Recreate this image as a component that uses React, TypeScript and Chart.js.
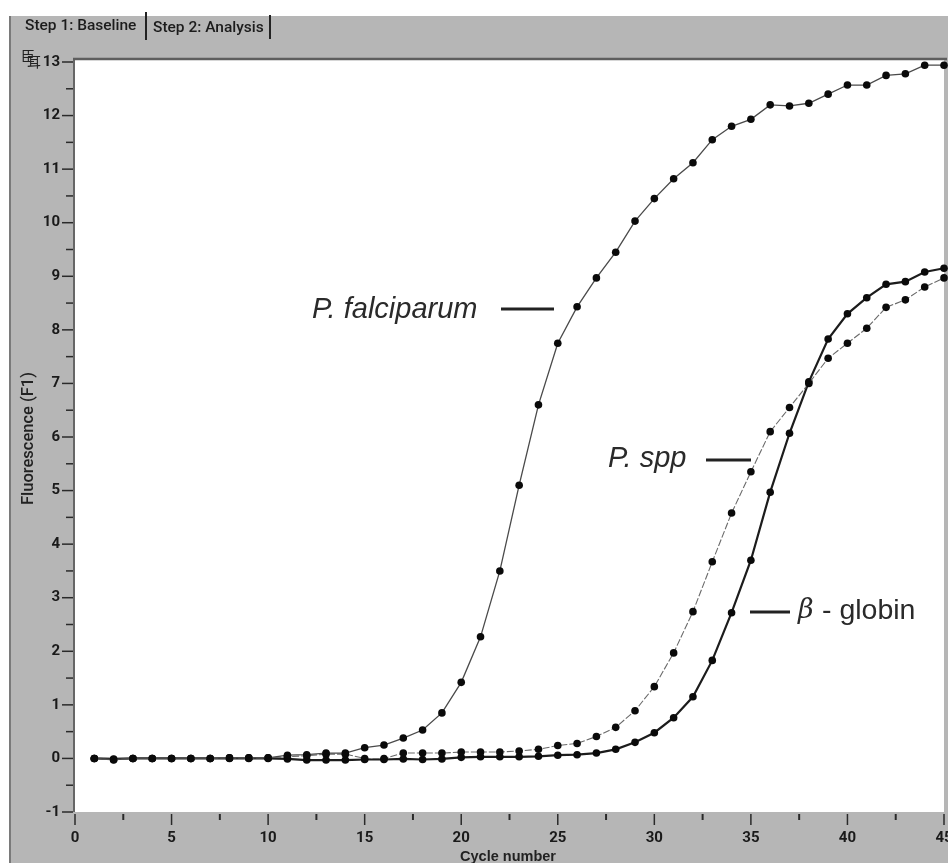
import React, { useEffect, useRef } from "react";
import { Chart, registerables } from "chart.js";

Chart.register(...registerables);

const cycles = Array.from({ length: 45 }, (_, i) => i + 1);
const falciparum = [0, -0.02, 0, 0, 0, 0, 0, 0.01, 0.01, 0.01, 0.06, 0.07, 0.1, 0.1, 0.2, 0.25, 0.38, 0.53, 0.85, 1.42, 2.27, 3.5, 5.1, 6.6, 7.75, 8.43, 8.97, 9.45, 10.03, 10.45, 10.82, 11.12, 11.55, 11.8, 11.93, 12.2, 12.18, 12.23, 12.4, 12.57, 12.57, 12.75, 12.78, 12.94, 12.94];
const pSpp = [0, -0.03, 0, 0, 0, 0, 0, 0.01, 0.01, 0.01, 0.03, 0.05, 0.08, 0.08, 0.0, 0.0, 0.1, 0.1, 0.1, 0.12, 0.12, 0.12, 0.14, 0.17, 0.24, 0.28, 0.41, 0.58, 0.89, 1.34, 1.97, 2.74, 3.67, 4.58, 5.35, 6.1, 6.55, 7.0, 7.47, 7.75, 8.03, 8.42, 8.56, 8.8, 8.97];
const betaGlobin = [0, -0.01, 0, 0, 0, 0, 0, 0, 0, 0, -0.01, -0.03, -0.03, -0.03, -0.02, -0.02, -0.01, -0.02, -0.01, 0.02, 0.03, 0.03, 0.03, 0.04, 0.06, 0.07, 0.1, 0.17, 0.3, 0.48, 0.76, 1.15, 1.83, 2.72, 3.7, 4.97, 6.07, 7.03, 7.83, 8.3, 8.6, 8.85, 8.9, 9.08, 9.15];
const yTicksMinor = [-0.5, 0.5, 1.5, 2.5, 3.5, 4.5, 5.5, 6.5, 7.5, 8.5, 9.5, 10.5, 11.5, 12.5];
const xTickLabels = [0, 5, 10, 15, 20, 25, 30, 35, 40, 45];
const xTitle = "Cycle number";
const yTitle = "Fluorescence (F1)";
const tabLabels = ["Step 1: Baseline", "Step 2: Analysis"];
const seriesLabels = ["P. falciparum", "P. spp", "β", "- globin"];

const tickFont = "Roboto, sans-serif";

const frame = {
  id: "frame",
  beforeDraw(chart: any) {
    const { ctx, chartArea: a, width, height } = chart;
    ctx.save();
    ctx.fillStyle = "#ffffff";
    ctx.fillRect(0, 0, width, height);
    ctx.fillStyle = "#b6b6b6";
    ctx.fillRect(9, 16, width - 9, height - 16);
    ctx.fillStyle = "#7a7a7a";
    ctx.fillRect(9, 16, 2, height - 16);
    ctx.fillStyle = "#ffffff";
    ctx.fillRect(a.left, a.top - 2, a.right - a.left, a.bottom - a.top + 2);
    ctx.restore();
  },
  afterDraw(chart: any) {
    const { ctx, chartArea: a, scales } = chart;
    ctx.save();
    ctx.strokeStyle = "#666";
    ctx.lineWidth = 2;
    ctx.beginPath();
    ctx.moveTo(a.left - 1, a.bottom);
    ctx.lineTo(a.left - 1, a.top - 2);
    ctx.stroke();
    ctx.strokeStyle = "#5e5e5e";
    ctx.lineWidth = 2.5;
    ctx.beginPath();
    ctx.moveTo(a.left - 2, a.top - 3);
    ctx.lineTo(a.right + 3, a.top - 3);
    ctx.stroke();

    ctx.strokeStyle = "#2a2a2a";
    ctx.lineWidth = 1.5;
    for (let v = -1; v <= 13; v++) {
      const y = scales.y.getPixelForValue(v);
      ctx.beginPath();
      ctx.moveTo(a.left - 13, y);
      ctx.lineTo(a.left - 2, y);
      ctx.stroke();
    }
    yTicksMinor.forEach((v) => {
      const y = scales.y.getPixelForValue(v);
      ctx.beginPath();
      ctx.moveTo(a.left - 9, y);
      ctx.lineTo(a.left - 2, y);
      ctx.stroke();
    });
    xTickLabels.forEach((v) => {
      const x = scales.x.getPixelForValue(v);
      ctx.lineWidth = 1.5;
      ctx.beginPath();
      ctx.moveTo(x, a.bottom + 2);
      ctx.lineTo(x, a.bottom + 13);
      ctx.stroke();
      if (v < 45) {
        const m = scales.x.getPixelForValue(v + 2.5);
        ctx.lineWidth = 2;
        ctx.beginPath();
        ctx.moveTo(m, a.bottom + 2);
        ctx.lineTo(m, a.bottom + 8);
        ctx.stroke();
      }
    });

    // tabs
    ctx.fillStyle = "#1c1c1c";
    ctx.textBaseline = "middle";
    ctx.textAlign = "left";
    ctx.font = "500 15.5px Roboto, sans-serif";
    ctx.fillText(tabLabels[0], 25, 26);
    ctx.fillText(tabLabels[1], 153, 28);
    ctx.strokeStyle = "#222";
    ctx.lineWidth = 2;
    [[146, 12, 40], [270, 15, 39]].forEach(([x, y1, y2]) => {
      ctx.beginPath();
      ctx.moveTo(x, y1);
      ctx.lineTo(x, y2);
      ctx.stroke();
    });

    // overlapped glyphs in the corner
    ctx.font = "14px 'Noto Sans CJK SC'";
    ctx.fillStyle = "#222";
    ctx.fillText("臣", 21, 56);
    ctx.fillText("耳", 27, 62);

    // axis titles
    ctx.fillStyle = "#222";
    ctx.textAlign = "center";
    ctx.font = "bold 14.5px 'Liberation Sans', sans-serif";
    ctx.fillText(xTitle, 508, 857);
    ctx.save();
    ctx.translate(29, 438.5);
    ctx.rotate(-Math.PI / 2);
    ctx.font = "500 16.5px Roboto, sans-serif";
    ctx.fillText(yTitle, 0, 0);
    ctx.restore();

    // series labels
    ctx.fillStyle = "#2a2a2a";
    ctx.textAlign = "left";
    ctx.font = "italic 29px 'Liberation Sans', sans-serif";
    ctx.fillText(seriesLabels[0], 312, 310);
    ctx.fillText(seriesLabels[1], 608, 459);
    ctx.font = "italic 27px 'DejaVu Serif', serif";
    ctx.fillText(seriesLabels[2], 798, 611);
    ctx.font = "28.5px 'Liberation Sans', sans-serif";
    ctx.fillText(seriesLabels[3], 822, 611);
    ctx.strokeStyle = "#222";
    ctx.lineWidth = 3;
    [[501, 554, 309], [706, 751, 460], [750, 790, 612]].forEach(([x1, x2, y]) => {
      ctx.beginPath();
      ctx.moveTo(x1, y);
      ctx.lineTo(x2, y);
      ctx.stroke();
    });
    ctx.restore();
  },
};

export default function App() {
  const ref = useRef<HTMLCanvasElement>(null);
  useEffect(() => {
    const makeSet = (label: string, data: number[], color: string, width: number, dash: number[]) => ({
      label,
      data: data.map((y, i) => ({ x: cycles[i], y })),
      borderColor: color,
      borderWidth: width,
      borderDash: dash,
      backgroundColor: "#0a0a0a",
      pointBackgroundColor: "#0a0a0a",
      pointBorderColor: "#0a0a0a",
      pointRadius: 3.8,
      pointBorderWidth: 0,
      tension: 0,
      clip: false as const,
    });
    const tickStyle = {
      autoSkip: false,
      color: "#1a1a1a",
      font: { family: tickFont, size: 15, weight: "bold" as const },
    };
    const chart = new Chart(ref.current!, {
      type: "line",
      data: {
        datasets: [
          makeSet("P. falciparum", falciparum, "#4a4a4a", 1.3, []),
          makeSet("P. spp", pSpp, "#6a6a6a", 1.1, [7, 2]),
          makeSet("β-globin", betaGlobin, "#1c1c1c", 2.2, []),
        ],
      },
      plugins: [frame],
      options: {
        animation: false,
        responsive: false,
        layout: { padding: { left: 0, top: 62, right: 3, bottom: 0 } },
        plugins: { legend: { display: false }, tooltip: { enabled: false }, title: { display: false } },
        scales: {
          x: {
            type: "linear",
            min: 0,
            max: 45,
            border: { display: false },
            grid: { display: false, drawTicks: false },
            afterFit(s: any) {
              s.height = 51;
              s.paddingLeft = 0;
              s.paddingRight = 0;
            },
            ticks: { ...tickStyle, stepSize: 5, maxRotation: 0, padding: 17 },
          },
          y: {
            type: "linear",
            min: -1,
            max: 13,
            border: { display: false },
            grid: { display: false, drawTicks: false },
            afterFit(s: any) {
              s.width = 75;
              s.paddingTop = 0;
              s.paddingBottom = 0;
            },
            ticks: { ...tickStyle, stepSize: 1, padding: 15 },
          },
        },
      },
    } as any);
    return () => chart.destroy();
  }, []);
  return (
    <div style={{ position: "absolute", left: 0, top: 0, width: 948, height: 863, overflow: "hidden" }}>
      <canvas ref={ref} width={948} height={863} style={{ display: "block", filter: "blur(0.5px)" }} />
    </div>
  );
}
